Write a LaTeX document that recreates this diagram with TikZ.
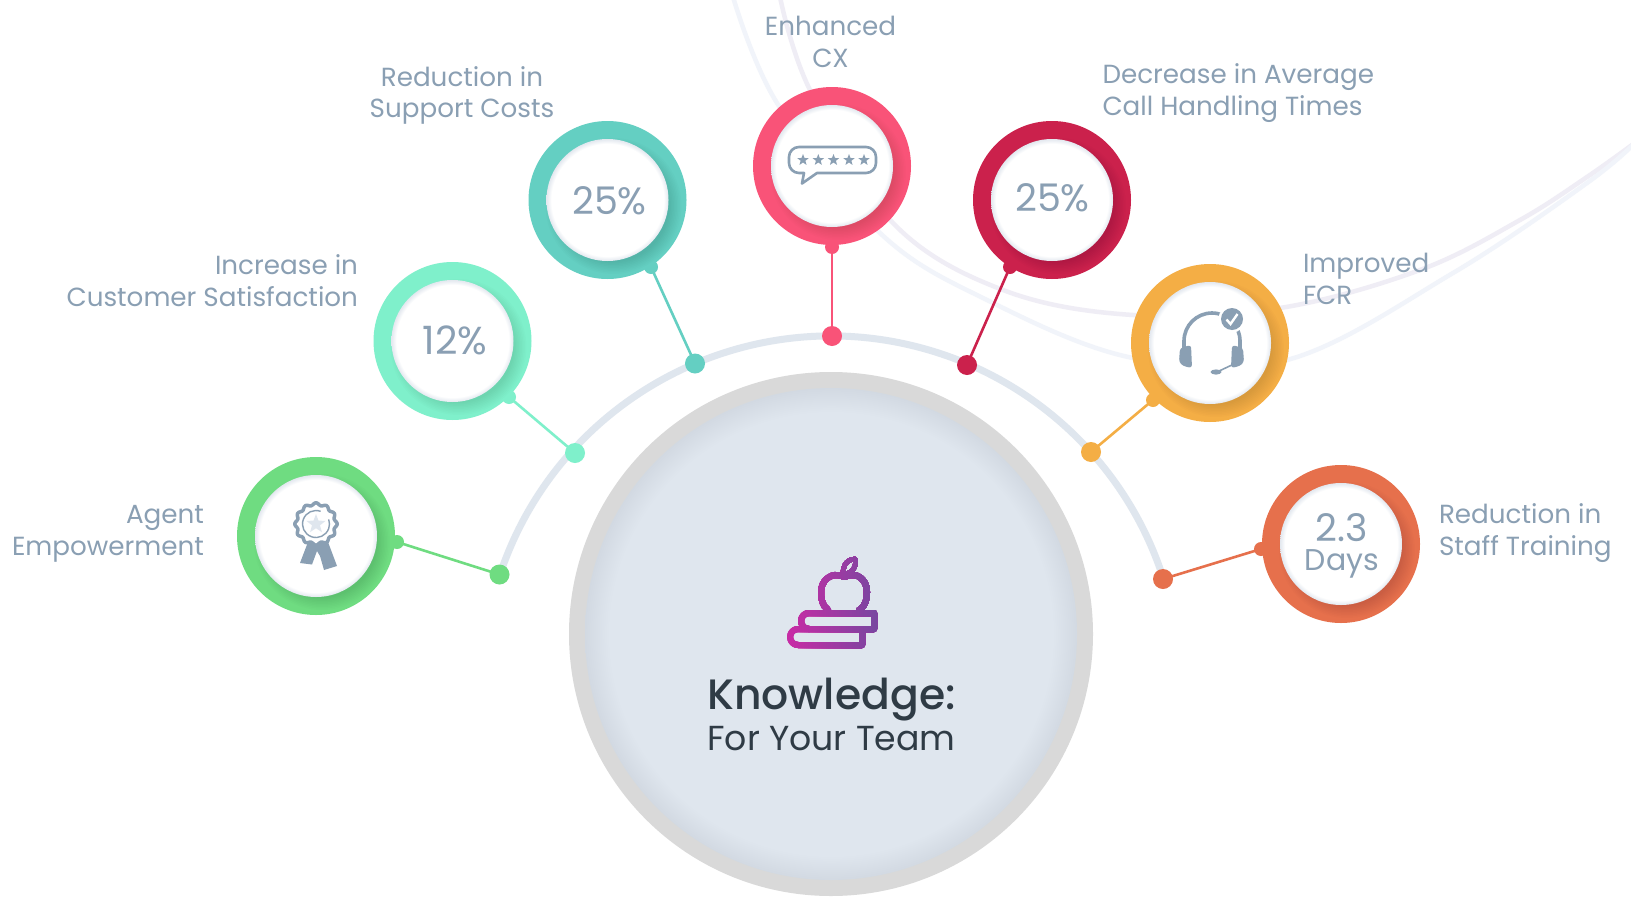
\documentclass[tikz,border=0pt]{standalone}
\usepackage{fontspec}
\setmainfont{Poppins}
\newfontfamily\popmed{Poppins Medium}
\usetikzlibrary{calc}
\definecolor{txt}{HTML}{8A9FB3}
\definecolor{dark}{HTML}{2F3B45}
\definecolor{cgreen}{HTML}{6FDC81}
\definecolor{caqua}{HTML}{7FF0CB}
\definecolor{cteal}{HTML}{64CFC2}
\definecolor{cpink}{HTML}{F95378}
\definecolor{ccrim}{HTML}{CB214C}
\definecolor{camber}{HTML}{F4AE45}
\definecolor{corange}{HTML}{E6704C}
\definecolor{curveA}{HTML}{EFEDF5}
\definecolor{curveB}{HTML}{F1F4FA}
\definecolor{arcc}{HTML}{DFE6EE}
\definecolor{edgew}{HTML}{E3E8EF}
\definecolor{edgeh}{HTML}{D2D9E2}
\definecolor{iconL}{HTML}{C62CA5}
\definecolor{iconR}{HTML}{7548A0}
\pgfdeclareradialshading{whitedisk}{\pgfpointorigin}{color(0bp)=(white);color(23bp)=(white);color(25bp)=(edgew);color(50bp)=(edgew)}
\pgfdeclareradialshading{bigdisk}{\pgfpointorigin}{color(0bp)=(arcc);color(22.5bp)=(arcc);color(25bp)=(edgeh);color(50bp)=(edgeh)}
\tikzset{
  x=1pt,y=1pt,
  label text/.style={font=\fontsize{26.2}{31.5}\selectfont,text=txt,inner sep=0,outer sep=0},
  big num/.style={font=\fontsize{38}{38}\selectfont,text=txt,inner sep=0},
  ringnode/.style={circle,fill=#1,minimum size=158pt,inner sep=0,outer sep=0},
  diskin/.style={circle,shading=whitedisk,minimum size=122pt,inner sep=0,outer sep=0},
  nub/.style={circle,fill=#1,minimum size=14pt,inner sep=0,outer sep=0},
  dotn/.style={circle,fill=#1,minimum size=20pt,inner sep=0,outer sep=0},
  conn/.style={draw=#1,line width=2.6pt},
  bgcurve/.style={line width=4.5pt,draw=#1},
  iconline/.style={line width=6pt,line cap=round,line join=round,draw=#1,fill=none},
}
\newcommand{\ringdisk}[4]{%
  \node[ringnode=#4] (#1) at (#2,#3) {};
  \begin{scope}
    \clip (#2,#3) circle (79);
    \foreach \rr in {56,57.5,...,69} {\fill[black,opacity=.012] (#2+6,#3-6) circle (\rr);}
  \end{scope}
  \node[diskin] (#1in) at (#2,#3) {};
}
\newcommand{\starshape}[4]{% x y radius colour
  \fill[#4] ($(#1,#2)+(90:#3)$)
    -- ($(#1,#2)+(126:#3*.42)$) -- ($(#1,#2)+(162:#3)$) -- ($(#1,#2)+(198:#3*.42)$)
    -- ($(#1,#2)+(234:#3)$) -- ($(#1,#2)+(270:#3*.42)$) -- ($(#1,#2)+(306:#3)$)
    -- ($(#1,#2)+(342:#3*.42)$) -- ($(#1,#2)+(18:#3)$) -- ($(#1,#2)+(54:#3*.42)$) -- cycle;
}
\newcommand{\applebooks}[1]{%
  % leaf
  \draw[iconline=#1,line width=4.6pt] (843,-574) .. controls (843,-564) and (848,-559) .. (855,-559)
     .. controls (857,-567) and (852,-574) .. (843,-574) -- cycle;
  % apple
  \draw[iconline=#1] (828,-610) .. controls (822,-606) and (821,-598) .. (821,-592)
     .. controls (821,-581) and (830,-574) .. (838,-575) .. controls (841,-575) and (843,-577) .. (844,-577)
     .. controls (846,-577) and (848,-575) .. (851,-575) .. controls (859,-574) and (867,-581) .. (867,-592)
     .. controls (867,-598) and (866,-606) .. (859,-610);
  % top book
  \draw[iconline=#1,line cap=butt,line join=round] (874,-613) -- (809,-613) arc[start angle=90,end angle=270,radius=8] -- (874,-629) -- cycle;
  % lower book
  \draw[iconline=#1,line cap=butt,line join=round] (809,-629) -- (798,-629) arc[start angle=90,end angle=270,radius=8] -- (862,-645) -- (862,-631);
}
\begin{document}
\begin{tikzpicture}
\useasboundingbox (0,0) rectangle (1631,-897);
\fill[white] (0,0) rectangle (1631,-897);

% faint background curves
\draw[bgcurve=curveA] plot[smooth,tension=.6] coordinates {(780,3) (810,-90) (893,-223) (1003,-290) (1133,-315) (1280,-308) (1420,-270) (1520,-220) (1587,-177) (1636,-142)};
\draw[bgcurve=curveB] plot[smooth,tension=.6] coordinates {(733,3) (777,-103) (880,-233) (987,-300) (1133,-358) (1287,-360) (1453,-273) (1587,-183) (1636,-142)};

% arc
\draw[line width=7pt,draw=arcc] (831,-685) ++(161.5:349) arc[start angle=161.5,end angle=17.7,radius=349];

% central disk
\node[circle,fill=black!15,minimum size=524pt,inner sep=0] (hub) at (831,-634) {};
\node[circle,shading=bigdisk,minimum size=492pt,inner sep=0] (hubin) at (831,-634) {};

% arc dots
\node[dotn=cgreen]  (d1) at (499.5,-574.5) {};
\node[dotn=caqua]   (d2) at (575,-453) {};
\node[dotn=cteal]   (d3) at (695,-363.5) {};
\node[dotn=cpink]   (d4) at (832,-336) {};
\node[dotn=ccrim]   (d5) at (967,-365) {};
\node[dotn=camber]  (d6) at (1091,-452) {};
\node[dotn=corange] (d7) at (1163,-579) {};

% nubs
\node[nub=cgreen]  (n1) at (397,-542) {};
\node[nub=caqua]   (n2) at (509,-397) {};
\node[nub=cteal]   (n3) at (651,-267) {};
\node[nub=cpink]   (n4) at (832,-247) {};
\node[nub=ccrim]   (n5) at (1010,-267) {};
\node[nub=camber]  (n6) at (1153,-400) {};
\node[nub=corange] (n7) at (1261,-549) {};

% connectors
\draw[conn=cgreen]  (n1.center) -- (d1.center);
\draw[conn=caqua]   (n2.center) -- (d2.center);
\draw[conn=cteal]   (n3.center) -- (d3.center);
\draw[conn=cpink]   (n4.center) -- (d4.center);
\draw[conn=ccrim]   (n5.center) -- (d5.center);
\draw[conn=camber]  (n6.center) -- (d6.center);
\draw[conn=corange] (n7.center) -- (d7.center);

% rings
\ringdisk{r1}{316}{-536}{cgreen}
\ringdisk{r2}{452.5}{-341}{caqua}
\ringdisk{r3}{607.5}{-200}{cteal}
\ringdisk{r4}{832}{-166}{cpink}
\ringdisk{r5}{1052}{-200}{ccrim}
\ringdisk{r6}{1210}{-343}{camber}
\ringdisk{r7}{1341}{-544}{corange}

% labels
\node[label text,anchor=east,align=right]  (l1) at (204,-534) {Agent\\Empowerment};
\node[label text,anchor=east,align=right]  (l2) at (358,-280.5) {Increase in\\Customer Satisfaction};
\node[label text,align=center] (l3) at (462,-95.5) {Reduction in\\Support Costs};
\node[label text,align=center] (l4) at (830.5,-42) {Enhanced\\CX};
\node[label text,anchor=west,align=left] (l5) at (1102.5,-93) {Decrease in Average\\Call Handling Times};
\node[label text,anchor=west,align=left] (l6) at (1303,-279) {Improved\\FCR};
\node[label text,anchor=west,align=left] (l7) at (1439,-533) {Reduction in\\Staff Training};

% numbers
\node[big num,font=\fontsize{39}{39}\selectfont] (v2) at (455,-340) {12\%};
\node[big num] (v3) at (609.5,-200.5) {25\%};
\node[big num] (v5) at (1052.5,-197.5) {25\%};
\node[big num,align=center] (v7) at (1342,-546) {\fontsize{38}{31}\selectfont 2.3\\[-9pt]\fontsize{30}{31}\selectfont Days};

% centre text
\node[inner sep=0,text=dark,font=\popmed\fontsize{42.5}{42.5}\selectfont] (t1) at (831.5,-700) {Knowledge:};
\node[inner sep=0,text=dark,font=\fontsize{34.7}{34.7}\selectfont] (t2) at (831.5,-739) {For Your Team};

% apple and books icon, gradient by vertical strips
\foreach \i in {0,...,45} {
  \pgfmathsetmacro{\xs}{782+2.2*\i}
  \pgfmathsetmacro{\mixv}{min(100,max(0,100-(\xs-790)/(880-790)*100))}
  \colorlet{iconmix}{iconL!\mixv!iconR}
  \begin{scope}
    \clip (\xs,-540) rectangle (890,-660);
    \applebooks{iconmix}
  \end{scope}
}

% chat icon
\draw[draw=txt,line width=2.6pt,line join=round,line cap=round]
  (799,-147) -- (866,-147) arc[start angle=90,end angle=0,radius=10] -- (876,-163)
  arc[start angle=0,end angle=-90,radius=10] -- (817,-173) -- (802,-183.5) -- (804,-173) -- (799,-173)
  arc[start angle=270,end angle=180,radius=10] -- (789,-157) arc[start angle=180,end angle=90,radius=10] -- cycle;
\foreach \sx in {803,818.3,833.5,849,864} {\starshape{\sx}{-160}{6}{txt}}

% rosette icon
\fill[txt] (308,-542) -- (300,-563) -- (312,-564.5) -- (317,-551) -- (320,-556) -- (324,-570) -- (337,-566) -- (328,-542) -- cycle;
\draw[draw=txt,fill=white,line width=3.5pt] plot[domain=0:357,samples=120,smooth] ({316+(20+1.2*cos(12*\x))*cos(\x)},{-524+(20+1.2*cos(12*\x))*sin(\x)}) -- cycle;
\draw[txt,line width=1.4pt] (316,-524) ++(70:13.5) arc[start angle=70,end angle=380,radius=13.5];
\starshape{316}{-524}{10}{arcc}

% headset icon
\draw[txt,line width=3.6pt] (1184,-350) -- (1184,-341) arc[start angle=180,end angle=0,radius=28] -- (1240,-350);
\fill[txt,rounded corners=3pt] (1180,-348) -- (1191,-345) -- (1192,-368) -- (1183,-366) -- (1179,-362) -- cycle;
\fill[txt,rounded corners=3pt] (1243,-348) -- (1232,-345) -- (1231,-368) -- (1240,-366) -- (1244,-362) -- cycle;
\draw[txt,line width=1.6pt] (1234,-364) -- (1217,-372);
\fill[txt] (1216,-372) ellipse (5.5 and 2.6);
\fill[white] (1232,-319) circle (13.5);
\fill[txt] (1232,-319) circle (11);
\draw[white,line width=2.4pt] (1226.5,-319.5) -- (1230.5,-324) -- (1237.5,-314);
\end{tikzpicture}
\end{document}
